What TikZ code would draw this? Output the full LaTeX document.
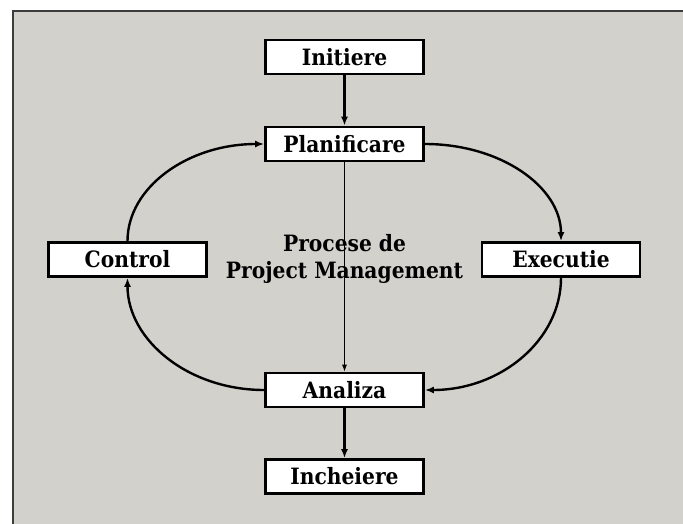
\documentclass[tikz,border=0pt]{standalone}
\usepackage{fontspec}
\setmainfont{DejaVu Serif Condensed}
\usetikzlibrary{arrows.meta}
\definecolor{bgc}{RGB}{211,209,204}
\definecolor{edgec}{RGB}{60,60,60}
\tikzset{
  box/.style={draw=black, line width=2.8pt, fill=white, minimum width=158pt, minimum height=34pt, inner sep=0pt, font=\bfseries\fontsize{22.5}{26}\selectfont},
  thickarrow/.style={line width=2.2pt, -{Latex[length=9pt,width=7pt]}},
  curvearrow/.style={line width=2.4pt, -{Latex[length=9pt,width=7pt]}},
  thinarrow/.style={line width=0.8pt, -{Latex[length=7pt,width=5pt]}},
  midtext/.style={align=center, font=\bfseries\fontsize{22.5}{27}\selectfont}
}
\begin{document}
\begin{tikzpicture}[x=1pt,y=-1pt]
\useasboundingbox (0,0) rectangle (683,524);
\fill[bgc] (12,10) rectangle (683,524);
\draw[edgec, line width=2pt] (13,524) -- (13,11) -- (683,11);
\node[midtext] (mid) at (344.5,259) {Procese de\\Project Management};
\node[box] (init) at (344.5,57) {Initiere};
\node[box] (plan) at (344.5,144) {Planificare};
\node[box] (ctrl) at (127.5,259.5) {Control};
\node[box] (exec) at (561,259.5) {Executie};
\node[box] (anal) at (344.5,390) {Analiza};
\node[box] (inch) at (344.5,476.5) {Incheiere};
\draw[thickarrow] (init.south) -- (plan.north);
\draw[thickarrow] (anal.south) -- (inch.north);
\draw[thinarrow] (plan.south) -- (anal.north);
\draw[curvearrow] (ctrl.north) .. controls +(90:54pt) and +(180:76pt) .. (plan.west);
\draw[curvearrow] (plan.east) .. controls +(0:76pt) and +(90:54pt) .. (exec.north);
\draw[curvearrow] (exec.south) .. controls +(-90:62pt) and +(0:76pt) .. (anal.east);
\draw[curvearrow] (anal.west) .. controls +(180:76pt) and +(-90:62pt) .. (ctrl.south);
\end{tikzpicture}
\end{document}
